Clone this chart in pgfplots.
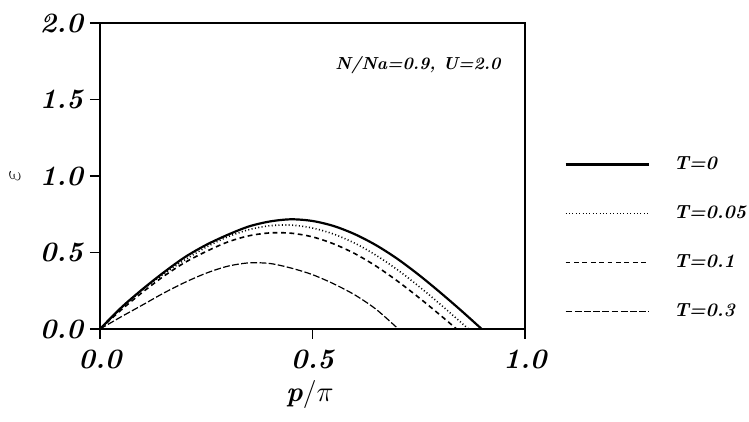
\documentclass[border=0pt]{standalone}
\usepackage{pgfplots}
\pgfplotsset{compat=1.18}

\pgfplotstableread{
x y
0 0
0.05 0.14
0.1 0.26
0.15 0.37
0.2 0.47
0.25 0.55
0.3 0.615
0.35 0.67
0.4 0.703
0.45 0.717
0.5 0.706
0.55 0.673
0.6 0.619
0.65 0.547
0.7 0.458
0.75 0.354
0.8 0.240
0.85 0.12
0.898 0
}\tzero
\pgfplotstableread{
x y
0 0
0.05 0.135
0.1 0.255
0.15 0.36
0.2 0.452
0.25 0.535
0.3 0.602
0.35 0.649
0.4 0.675
0.45 0.679
0.5 0.660
0.55 0.620
0.6 0.560
0.65 0.481
0.7 0.387
0.75 0.279
0.8 0.163
0.867 0
}\tfive
\pgfplotstableread{
x y
0 0
0.05 0.125
0.1 0.24
0.15 0.345
0.2 0.435
0.25 0.507
0.3 0.568
0.35 0.609
0.4 0.628
0.45 0.626
0.5 0.602
0.55 0.556
0.6 0.492
0.65 0.41
0.7 0.313
0.75 0.206
0.8 0.092
0.839 0
}\tone
\pgfplotstableread{
x y
0 0
0.05 0.08
0.1 0.157
0.15 0.235
0.2 0.305
0.25 0.365
0.3 0.41
0.35 0.432
0.4 0.428
0.45 0.398
0.5 0.355
0.55 0.295
0.6 0.222
0.65 0.128
0.702 0
}\tthree

\newcommand{\bi}{\bfseries\itshape}

\begin{document}
\begin{tikzpicture}
\path[use as bounding box] (0,0) rectangle (374.5pt,211pt);
\begin{axis}[
  at={(50pt,46.5pt)}, anchor=south west,
  scale only axis,
  width=212.5pt, height=153pt,
  xmin=0, xmax=1, ymin=0, ymax=2,
  xtick={0,0.5,1}, xticklabels={0.0,0.5,1.0},
  ytick={0,0.5,1,1.5,2}, yticklabels={0.0,0.5,1.0,1.5,2.0},
  xtick pos=bottom, ytick pos=left,
  tick align=outside,
  major tick length=5pt,
  tick style={line width=0.8pt, black},
  axis line style={line width=1pt},
  ticklabel style={font=\fontsize{14}{16}\selectfont\bi},
  xticklabel style={yshift=-2pt},
  xlabel={\textbf{\textit{p}}/$\pi$},
  xlabel style={at={(axis description cs:0.494,-0.215)}, anchor=center, font=\fontsize{14}{16}\selectfont},
  ylabel={$\varepsilon$},
  ylabel style={at={(axis description cs:-0.2,0.5)}, anchor=center, font=\fontsize{12}{14}\selectfont},
  legend style={draw=none, fill=none, at={(axis description cs:1.078,0.297)}, anchor=west,
    font=\fontsize{9.5}{11}\selectfont\bi, row sep=12.6pt, column sep=0pt,
    cells={anchor=west}},
  legend image code/.code={\draw[#1] (0pt,0pt) -- (41.5pt,0pt);},
  legend cell align=left,
]
\addplot[black, line width=1.1pt, smooth, tension=0.5] table {\tzero};
\addlegendentry{\hspace{10pt}T=0}
\addplot[black, line width=0.8pt, dash pattern=on 0.5pt off 1.2pt, smooth, tension=0.5] table {\tfive};
\addlegendentry{\hspace{10pt}T=0.05}
\addplot[black, line width=0.8pt, dash pattern=on 2.4pt off 1.8pt, smooth, tension=0.5] table {\tone};
\addlegendentry{\hspace{10pt}T=0.1}
\addplot[black, line width=0.6pt, dash pattern=on 3.4pt off 1.2pt, smooth, tension=0.5] table {\tthree};
\addlegendentry{\hspace{10pt}T=0.3}
\node[font=\fontsize{8.7}{11}\selectfont\bi, anchor=center] at (axis description cs:0.748,0.862) {N/Na=0.9, U=2.0};
\end{axis}
\end{tikzpicture}
\end{document}
